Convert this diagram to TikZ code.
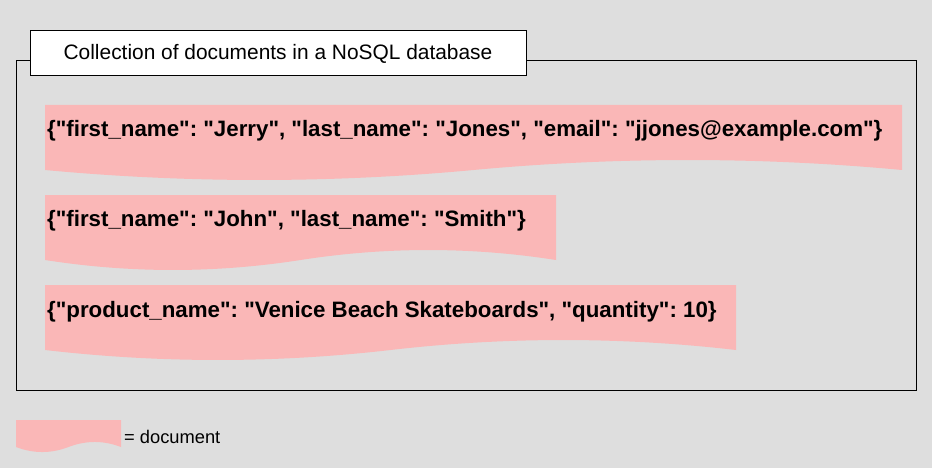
\documentclass[tikz,border=0pt]{standalone}
\usepackage{fontspec}
\setmainfont{Liberation Sans}[Ligatures=TeXOff]
\usepackage{xcolor}
\usepackage{tikz}
\frenchspacing

\definecolor{bggray}{HTML}{DEDEDE}
\definecolor{docpink}{HTML}{FAB7B7}

\tikzset{
    docfill/.style={fill=docpink, draw=none},
    doctext/.style={anchor=west, inner sep=0pt, font=\fontsize{22.3}{26}\selectfont\bfseries},
    frameline/.style={black, line width=1pt}
}

\begin{document}
\begin{tikzpicture}[x=1pt,y=-1pt]

            % background
            \fill [bggray] (0,0) rectangle (932,468);
            \useasboundingbox (0,0) rectangle (932,468);

            % collection frame
            \draw [frameline] (16,61) rectangle (916,390);
            \node [draw, frameline, fill=white, minimum width=496pt, minimum height=45pt, inner sep=0pt,
                   font=\fontsize{20.9}{24}\selectfont] (title) at (278,53.5) {Collection of documents in a NoSQL database};

            % doc 1
            \fill [docfill] (45,105) -- (902,105) -- (902,170)
                .. controls (759.2,156.7) and (616.3,156.7) .. (473.5,170)
                .. controls (330.7,183.3) and (187.8,183.3) .. (45,170) -- cycle;
            \node [doctext] (jerry) at (47,131) {\{"first\_name": "Jerry", "last\_name": "Jones", "email": "jjones@example.com"\}};

            % doc 2
            \fill [docfill] (45,195) -- (556,195) -- (556,260)
                .. controls (470.8,246.7) and (385.7,246.7) .. (300.5,260)
                .. controls (215.3,273.3) and (130.2,273.3) .. (45,260) -- cycle;
            \node [doctext] (john) at (47,221) {\{"first\_name": "John", "last\_name": "Smith"\}};

            % doc 3
            \fill [docfill] (45,285) -- (736,285) -- (736,350)
                .. controls (620.8,336.7) and (505.7,336.7) .. (390.5,350)
                .. controls (275.3,363.3) and (160.2,363.3) .. (45,350) -- cycle;
            \node [doctext] (product) at (47,312) {\{"product\_name": "Venice Beach Skateboards", "quantity": 10\}};

            % legend
            \fill [docfill] (16,420) -- (121,420) -- (121,447)
                .. controls (103.5,440.3) and (86,440.3) .. (68.5,447)
                .. controls (51,453.7) and (33.5,453.7) .. (16,447) -- cycle;
            \node [anchor=west, inner sep=0pt, font=\fontsize{18.3}{22}\selectfont] (legend) at (124,437) {= document};

\end{tikzpicture}
\end{document}
